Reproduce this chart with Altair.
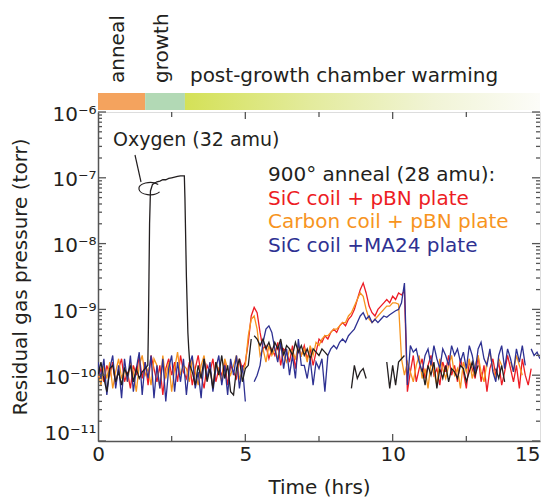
import altair as alt
import pandas as pd

# ---------------- data (log10 of pressure, 0.1 h grid from 0 to 15 h) ----------------
T_STEP = 0.1

red_log = [
    -10.05, -9.90, -10.10, -9.85, -10.00, -9.80, -10.15, -9.90, -9.75, -10.10,
    -9.95, -10.20, -9.85, -10.00, -9.70, -10.05, -9.80, -10.15, -9.70, -9.90,
    -10.10, -9.85, -10.30, -9.90, -9.75, -10.00, -9.80, -10.10, -9.70, -9.95,
    -10.05, -9.80, -10.15, -9.90, -9.70, -10.00, -10.20, -9.85, -9.95, -9.75,
    -10.10, -9.90, -10.00, -9.80, -10.15, -9.85, -9.95, -10.05, -9.75, -9.90,
    -9.80, -9.50, -9.10, -8.97, -9.05, -9.35, -9.60, -9.55, -9.75, -9.60,
    -9.70, -9.50, -9.85, -9.60, -9.65, -9.80, -9.55, -9.90, -9.60, -9.70,
    -9.55, -9.75, -9.60, -9.85, -9.65, -9.45, -9.50, -9.40, -9.45, -9.35,
    -9.30, -9.35, -9.25, -9.20, -9.25, -9.15, -9.10, -9.00, -8.85, -8.70,
    -8.60, -8.75, -8.95, -9.05, -9.10, -9.00, -8.95, -8.90, -8.85, -8.90,
    -8.80, -8.85, -8.75, -8.78, -8.72, -10.25, -9.95, -9.70, -10.10, -9.90,
    -9.75, -10.05, -9.85, -9.70, -10.00, -9.90, -10.15, -9.80, -9.95, -9.70,
    -10.00, -9.85, -10.10, -9.75, -9.95, -10.20, -9.80, -9.90, -10.05, -9.70,
    -10.10, -9.85, -10.25, -9.90, -9.75, -10.00, -9.80, -10.15, -9.95, -9.70,
    -9.90, -10.10, -9.85, -10.20, -9.75, -10.00, -10.15, -9.90, None, None,
    None,
]

orange_log = [
    -9.95, -10.15, -9.85, -10.05, -9.80, -10.20, -9.95, -9.75, -10.05, -9.90,
    -10.10, -9.80, -9.95, -10.25, -9.85, -9.70, -10.00, -9.90, -10.15, -9.75,
    -9.85, -10.20, -9.70, -10.05, -9.80, -10.25, -9.90, -9.65, -10.00, -9.85,
    -9.90, -10.10, -9.75, -9.95, -10.15, -9.85, -9.70, -10.05, -9.90, -10.20,
    -9.80, -9.95, -10.10, -9.75, -9.90, -10.00, -9.85, -9.70, -10.05, -9.95,
    -9.85, -9.40, -9.15, -9.10, -9.30, -9.70, -9.60, -9.80, -9.55, -9.70,
    -9.60, -9.75, -9.55, -9.70, -9.80, -9.60, -9.65, -9.75, -9.55, -9.70,
    -9.60, -9.80, -9.55, -9.70, -9.50, -9.55, -9.45, -9.40, -9.40, -9.35,
    -9.30, -9.30, -9.25, -9.20, -9.20, -9.10, -9.05, -8.95, -8.85, -8.75,
    -8.80, -9.00, -9.15, -9.20, -9.15, -9.10, -9.05, -9.00, -8.95, -8.95,
    -8.90, -8.90, -8.92, -9.75, -10.00, -9.80, -9.95, -10.10, -9.85, -9.70,
    -10.05, -9.90, -10.20, -9.80, -9.95, -10.15, -9.75, -9.90, -10.05, -9.85,
    -9.70, -10.00, -9.90, -10.20, -9.80, -9.95, -9.75, -10.05, -9.85, -9.70,
    -9.95, -10.10, -9.80, -9.65, -9.90, -10.05, -9.75, -9.85, None, None,
    -9.80, -9.95, -9.70, -9.85, -10.00, None, None, None, None, None,
    None,
]

blue_log = [
    -9.80, -10.05, -9.75, -10.30, -9.90, -9.70, -10.20, -9.85, -10.35, -9.75,
    -10.10, -9.70, -10.25, -9.90, -9.65, -10.30, -9.80, -10.05, -9.70, -10.35,
    -9.85, -10.20, -9.75, -10.40, -9.90, -9.70, -10.25, -9.80, -10.10, -9.75,
    -10.30, -9.85, -9.70, -10.20, -9.95, -10.35, -9.75, -10.05, -9.80, -10.25,
    -9.90, -9.70, -10.15, -9.85, -10.30, -9.75, -10.00, -9.70, -10.20, -9.85,
    -10.40, None, None, -10.10, -10.00, -9.85, -9.50, -9.30, -9.25, -9.35,
    -9.60, -9.80, -9.50, -9.90, -9.60, -10.00, -9.70, -10.05, -9.45, -9.85,
    -9.85, -10.05, -9.75, -10.15, -9.80, -9.90, -9.75, -10.25, -9.70, -9.60,
    -9.55, -9.60, -9.50, -9.45, -9.50, -9.40, -9.35, -9.30, -9.20, -9.10,
    -9.05, -9.15, -9.10, -9.20, -9.15, -9.20, -9.15, -9.10, -9.12, -9.08,
    -9.05, -9.02, -9.00, -8.90, -8.60, -10.15, -9.55, -9.65, -9.60, -9.80,
    -9.95, -9.70, -9.60, -9.85, -9.55, -9.75, -9.90, -9.60, -9.70, -9.85,
    -9.55, -9.70, -9.60, -9.80, -9.65, -9.90, -9.55, -9.70, -9.95, -9.60,
    -9.50, -9.75, -9.85, -9.60, -9.95, -10.10, -9.70, -9.55, -9.90, -9.60,
    -9.75, -9.95, -9.60, -9.80, -9.55, -9.85, None, -9.60, -9.70, -9.65,
    -9.75,
]

# oxygen (32 amu): baseline pieces on the 0.1 h grid (start hour, values)
black_pieces = [
    (0.0, [-10.00, -9.80, -10.05, -10.25, -9.90, -9.85, -10.10, -9.95, -10.15,
           -9.90, -10.00, -9.85, -10.10, -9.90, -10.05, -9.95, -9.90]),
    (3.2, [-9.95, -10.15, -9.85, -10.05, -9.75, -10.10, -9.90, -10.20, -9.80,
           -10.00, -9.70, -10.05, -9.85, -10.25, -10.30, -9.90, -9.75, -10.10,
           -9.90, -9.85, -9.45]),
    (5.3, [-9.40, -9.45, -9.55, -9.45, -9.60, -9.50, -9.65, -9.50,
           -9.60, -9.45, -9.70, -9.55, -9.60, -9.70, -9.50, -9.65, -9.55,
           -9.70, -9.60, -9.75, -9.60, -9.65, -9.70, -9.60, -9.65, -9.70]),
    (8.6, [-10.20, -9.85, -10.05, -9.95, -9.90, -10.05]),
    (9.8, [-9.80, -10.20, -9.85, -10.15, -9.80, -9.75, -9.70]),
    (11.0, [-9.90, -10.15, -9.85, -10.00, -9.80, -10.20, -9.90, -10.05, -9.85,
            -10.10, -9.90, -9.95, -10.05, -9.85, -9.90, -10.10, -9.95, -9.80,
            -10.00, -9.85]),
    (13.5, [-9.90, -10.05, -9.85, -10.10]),
]
# oxygen burst during anneal / growth
oxygen_t = [1.60, 1.69, 1.71, 1.73, 1.75, 1.78, 1.85, 2.0, 2.1, 2.2, 2.3, 2.4,
            2.5, 2.6, 2.7, 2.8, 2.93, 2.95, 3.00, 3.05, 3.08, 3.12, 3.20]
oxygen_log = [-9.90, -9.85, -9.30, -8.50, -7.70, -7.20, -7.10, -7.06, -7.05,
              -7.03, -7.03, -7.01, -7.00, -6.99, -6.98, -6.97, -6.97, -7.30,
              -8.50, -9.35, -9.60, -9.85, -9.95]

series_names = ["red", "orange", "blue", "black"]
series_colors = ["#ED1C24", "#F7941E", "#2E3192", "#231F20"]

legend_lines = ["900\u00b0 anneal (28 amu):", "SiC coil + pBN plate",
                "Carbon coil + pBN plate", "SiC coil +MA24 plate"]
legend_colors = ["#231F20", "#ED1C24", "#F7941E", "#2E3192"]

phase_names = ["anneal", "growth"]
phase_start = [0.0, 1.6]
phase_end = [1.6, 2.95]
phase_colors = ["#F4A35E", "#B2D9B5"]
warming_span = [2.95, 15.0]

x_labels = [0, 5, 10, 15]
x_minor = [2.5, 7.5, 12.5]
x_major_inner = [5, 10]
y_decades = [-11, -10, -9, -8, -7, -6]
y_labels = ["10\u207b\u00b9\u00b9", "10\u207b\u00b9\u2070", "10\u207b\u2079",
            "10\u207b\u2078", "10\u207b\u2077", "10\u207b\u2076"]

# ---------------- build tables ----------------
def grid_rows(name, values, start=0.0, seg0=0):
    rows, seg = [], seg0
    for i, v in enumerate(values):
        if v is None:
            seg += 1
            continue
        rows.append({"series": name, "t": round(start + i * T_STEP, 3),
                     "p": 10 ** v, "seg": f"{name}{seg}"})
    return rows

frames = {}
frames["red"] = pd.DataFrame(grid_rows("red", red_log))
frames["orange"] = pd.DataFrame(grid_rows("orange", orange_log))
frames["blue"] = pd.DataFrame(grid_rows("blue", blue_log))
brows = []
for k, (st, vals) in enumerate(black_pieces):
    brows += grid_rows("black", vals, st, seg0=100 * k)
brows += [{"series": "black", "t": t, "p": 10 ** v, "seg": "oxy"}
          for t, v in zip(oxygen_t, oxygen_log)]
frames["black"] = pd.DataFrame(brows)

W, H = 442, 329
FONT = "DejaVu Sans"
AX = "#555555"
TXT = "#231F20"

xscale = alt.Scale(domain=[0, 15], nice=False, zero=False)
yscale = alt.Scale(type="log", domain=[1e-11, 1e-6], nice=False)

label_expr = " : ".join(
    f"round(log(datum.value)/LN10) == {e} ? '{lab}'" for e, lab in zip(y_decades, y_labels)
) + " : ''"

x_axis = alt.Axis(values=x_labels, ticks=False, grid=False, domainColor=AX, domainWidth=1.5,
                  labelFont=FONT, labelFontSize=20, labelColor=TXT, labelPadding=3,
                  labelFlush=False,
                  labelAlign={"condition": {"test": "datum.value >= 15", "value": "right"},
                              "value": "center"},
                  title="Time (hrs)", titleFont=FONT, titleFontSize=20,
                  titleFontWeight="normal", titleColor=TXT, titleY=46, titleBaseline="middle")
y_axis = alt.Axis(values=[10.0 ** e for e in y_decades], ticks=False, grid=False,
                  domainColor=AX, domainWidth=1.5, labelExpr=label_expr,
                  labelFont=FONT, labelFontSize=20, labelColor=TXT, labelPadding=2,
                  labelBaseline={"condition": {"test": "datum.value < 2e-11", "value": "bottom"},
                                 "value": "middle"},
                  labelOffset=2,
                  title="Residual gas pressure (torr)", titleFont=FONT, titleFontSize=20,
                  titleFontWeight="normal", titleColor=TXT, titleX=-78, titleY=H / 2,
                  titleAlign="center", titleBaseline="middle")


def X(field):
    return alt.X(field, scale=xscale, axis=x_axis)


def Y(field):
    return alt.Y(field, scale=yscale, axis=y_axis)


layers = []
for i, name in enumerate(series_names):
    layers.append(
        alt.Chart(frames[name]).mark_line(strokeWidth=1.3, clip=True, color=series_colors[i]).encode(
            x=X("t:Q"), y=Y("p:Q"), detail="seg:N", order="t:Q",
        )
    )

# inward ticks
y_major_df = pd.DataFrame({"p": [10.0 ** e for e in y_decades]})
y_minor_df = pd.DataFrame({"p": [k * 10.0 ** e for e in y_decades[:-1] for k in range(2, 10)]})
x_major_df = pd.DataFrame({"t": x_major_inner})
x_minor_df = pd.DataFrame({"t": x_minor})
tick_style = dict(color=AX, strokeWidth=1.3)
layers += [
    alt.Chart(y_major_df).mark_rule(**tick_style).encode(y=Y("p:Q"), x=alt.value(0), x2=alt.value(8)),
    alt.Chart(y_minor_df).mark_rule(**tick_style).encode(y=Y("p:Q"), x=alt.value(0), x2=alt.value(4)),
    alt.Chart(y_major_df).mark_rule(**tick_style).encode(y=Y("p:Q"), x=alt.value(W), x2=alt.value(W - 8)),
    alt.Chart(y_minor_df).mark_rule(**tick_style).encode(y=Y("p:Q"), x=alt.value(W), x2=alt.value(W - 4)),
    alt.Chart(x_major_df).mark_rule(**tick_style).encode(x=X("t:Q"), y=alt.value(H), y2=alt.value(H - 7)),
    alt.Chart(x_minor_df).mark_rule(**tick_style).encode(x=X("t:Q"), y=alt.value(H), y2=alt.value(H - 5)),
    alt.Chart(x_major_df).mark_rule(**tick_style).encode(x=X("t:Q"), y=alt.value(0), y2=alt.value(7)),
    alt.Chart(x_minor_df).mark_rule(**tick_style).encode(x=X("t:Q"), y=alt.value(0), y2=alt.value(5)),
]

# process bar above the plot
phase_df = pd.DataFrame({"t": phase_start, "end": phase_end})
for i in range(len(phase_names)):
    layers.append(
        alt.Chart(phase_df.iloc[[i]]).mark_rect(color=phase_colors[i]).encode(
            x=X("t:Q"), x2="end:Q", y=alt.value(-19), y2=alt.value(-2))
    )
warm_df = pd.DataFrame({"t": [warming_span[0]], "end": [warming_span[1]]})
layers.append(
    alt.Chart(warm_df).mark_rect(
        color=alt.LinearGradient(
            gradient="linear", x1=0, x2=1, y1=0, y2=0,
            stops=[alt.GradientStop(color="#D4E157", offset=0),
                   alt.GradientStop(color="#E3EB9C", offset=0.35),
                   alt.GradientStop(color="#F1F4D6", offset=0.7),
                   alt.GradientStop(color="#FCFCF8", offset=1)])
    ).encode(x=X("t:Q"), x2="end:Q", y=alt.value(-19), y2=alt.value(-2))
)

one = pd.DataFrame({"a": [0]})
label_pos = {"anneal": 0.68, "growth": 2.17}
for name in phase_names:
    layers.append(
        alt.Chart(pd.DataFrame({"t": [label_pos[name]]})).mark_text(
            text=name, angle=270, align="left", baseline="middle", font=FONT, fontSize=20, color=TXT
        ).encode(x=X("t:Q"), y=alt.value(-29))
    )
layers.append(
    alt.Chart(pd.DataFrame({"t": [3.12]})).mark_text(
        text="post-growth chamber warming", align="left", baseline="alphabetic",
        font=FONT, fontSize=20, color=TXT
    ).encode(x=X("t:Q"), y=alt.value(-30))
)

# oxygen annotation
layers.append(
    alt.Chart(one).mark_text(text="Oxygen (32 amu)", align="left", baseline="middle",
                             font=FONT, fontSize=19, color=TXT
    ).encode(x=alt.value(15), y=alt.value(28))
)
layers.append(
    alt.Chart(one).mark_rule(color=TXT, strokeWidth=1.2).encode(
        x=alt.value(37), y=alt.value(43), x2=alt.value(43), y2=alt.value(70))
)
loop_df = pd.DataFrame({"t": [1.76], "p": [10 ** -7.16]})
layers.append(
    alt.Chart(loop_df).mark_point(
        shape="M 0.87 0.32 A 1 0.55 0 1 1 0.75 -0.35", size=500, filled=False,
        color=TXT, strokeWidth=1.2, opacity=1
    ).encode(x=X("t:Q"), y=Y("p:Q"))
)

# legend text
for i, (line, col) in enumerate(zip(legend_lines, legend_colors)):
    layers.append(
        alt.Chart(one).mark_text(text=line, align="left", baseline="middle",
                                 font=FONT, fontSize=20, color=col
        ).encode(x=alt.value(170), y=alt.value(63 + i * 23.5))
    )

chart = alt.layer(*layers).properties(
    width=W, height=H,
    autosize=alt.AutoSizeParams(type="none"),
    padding={"left": 90, "top": 104, "right": 1, "bottom": 57},
).configure_view(stroke=AX, strokeWidth=1.5).configure(background="white")

chart.save("out.html", embed_options={"renderer": "svg", "actions": False})
